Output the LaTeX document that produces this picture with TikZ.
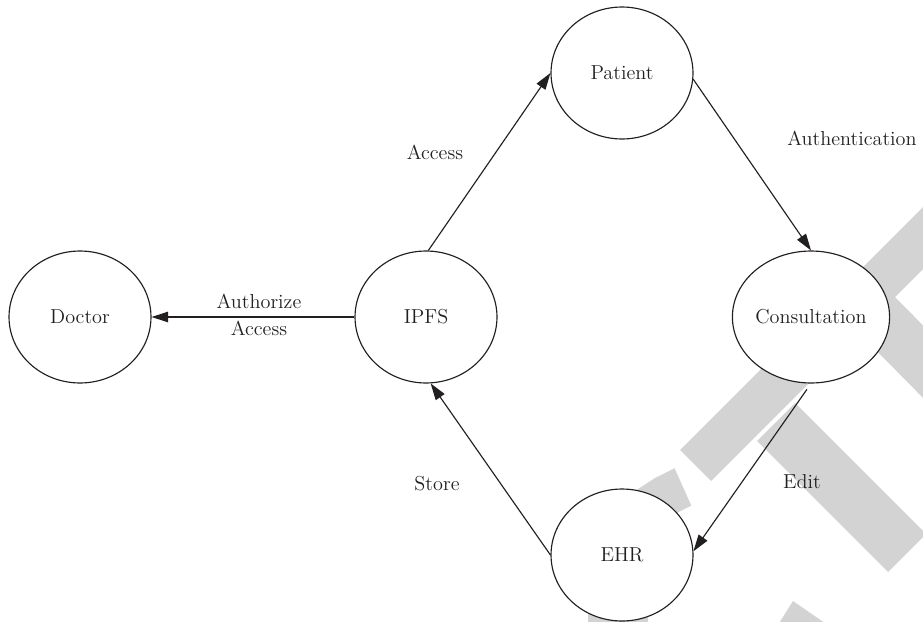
\documentclass[tikz,border=0pt]{standalone}
\usepackage{tikz}
\usetikzlibrary{arrows.meta,shapes.geometric}
\definecolor{markgray}{RGB}{211,211,211}
\definecolor{inkblack}{RGB}{35,31,32}

\begin{document}
\begin{tikzpicture}[x=0.02cm, y=-0.02cm, >={Triangle[length=9.5pt,width=6pt]},
    state/.style={ellipse, draw=inkblack, fill=white, line width=0.65pt,
        minimum width=2.84cm, minimum height=2.64cm, inner sep=0pt,
        text=inkblack, font=\fontsize{11.5}{13}\selectfont},
    lbl/.style={text=inkblack, font=\fontsize{11.5}{15}\selectfont, align=center, inner sep=0pt},
    flow/.style={->, draw=inkblack, line width=0.65pt}]

    %% Background
    \useasboundingbox (0,0) rectangle (923,622);

    % Watermark
    \begin{scope}
    \clip (0,0) rectangle (923,622);
    \fill[markgray] (680,450) -- (711,481) -- (996,196) -- (965,165) -- cycle;
    \fill[markgray] (757,441) -- (795,403) -- (926,534) -- (888,572) -- cycle;
    \fill[markgray] (858,332) -- (894,296) -- (1048,452) -- (1012,488) -- cycle;
    \fill[markgray] (674.6,468.2) -- (655,478) -- (636.6,490) -- (611.5,511.5) -- (588,539.6)
        -- (621.6,563) -- (640.5,540.5) -- (660.7,523.3) -- (675.5,513.6) -- (691.3,505.6) -- cycle;
    \fill[markgray] (588,600) rectangle (648,625);
    \fill[markgray] (776,628) -- (793,601) -- (832,628) -- cycle;
    \end{scope}

    % States
    \node[state] (Doctor) at (80,317) {Doctor};
    \node[state] (IPFS) at (426,317) {IPFS};
    \node[state] (Patient) at (622,73) {Patient};
    \node[state] (Consult) at (811,317) {Consultation};
    \node[state] (EHR) at (622,555) {EHR};

    % Flows
    \draw[flow] (IPFS) -- (Doctor);
    \draw[flow] (IPFS.88) -- (Patient.west);
    \draw[flow] (Patient.-5) -- (Consult.north);
    \draw[flow, shorten <=4pt] (Consult.south) -- (EHR.3);
    \draw[flow] (EHR.west) -- (IPFS.-86);

    % Labels
    \node[lbl] (authLbl) at (259,315) {Authorize\\Access};
    \node[lbl] (accessLbl) at (435,152) {Access};
    \node[lbl] (authenLbl) at (852,138) {Authentication};
    \node[lbl] (editLbl) at (802,482) {Edit};
    \node[lbl] (storeLbl) at (437,484) {Store};

\end{tikzpicture}
\end{document}
